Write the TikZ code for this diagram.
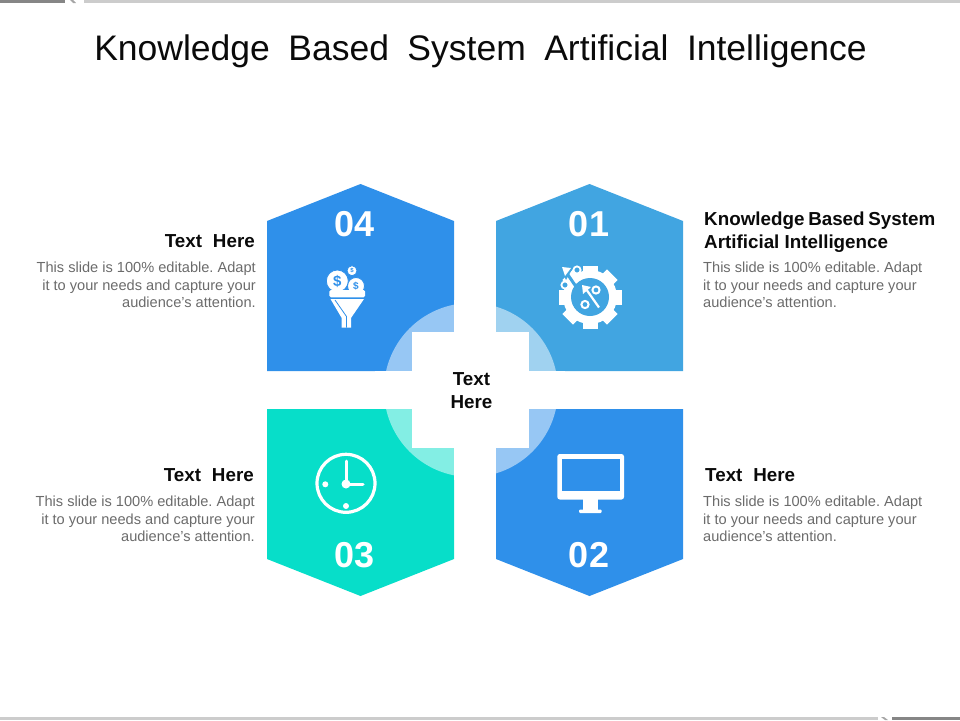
\documentclass[tikz,border=0pt]{standalone}
\usepackage{fontspec}
\setmainfont{Liberation Sans}
\usetikzlibrary{calc}
\definecolor{hexblue}{HTML}{2F90EA}
\definecolor{hexsky}{HTML}{41A5E1}
\definecolor{hexteal}{HTML}{07DEC9}
\definecolor{bodygrey}{HTML}{6B6B6B}
\definecolor{headblack}{HTML}{0A0A0A}
\newcommand{\descline}{\frenchspacing This slide is 100\% editable. Adapt\\it to your needs and capture your\\audience's attention.}
\tikzset{
  headtext/.style={inner sep=0pt,text=headblack,font=\fontsize{18.8}{23}\selectfont\bfseries},
  bodytext/.style={inner sep=0pt,text=bodygrey,font=\fontsize{14.6}{17.6}\selectfont},
  numtext/.style={inner sep=0pt,text=white,font=\fontsize{36}{36}\selectfont\bfseries},
  coin/.style={fill=white,draw=hexblue,line width=0.8pt}
}
\begin{document}
\begin{tikzpicture}[x=1pt,y=-1pt]
\useasboundingbox (0,0) rectangle (960,720);
% bars
\fill[gray!95] (0,0) rectangle (65,2.5);
\fill[gray!40] (84,0) rectangle (960,2.5);
\fill[gray!70] (70,0) -- (73,0) -- (76,3) -- (73,3) -- cycle;
\fill[gray!40] (0,717) rectangle (878,720);
\fill[gray!95] (892,717) rectangle (960,720);
\fill[gray!70] (881,717) -- (884,717) -- (888,720) -- (885,720) -- cycle;
\node (title) at (480.5,51) [inner sep=0pt,text=headblack,font=\fontsize{35.5}{40}\selectfont] {\spaceskip=0.52em\rule{0pt}{0pt}Knowledge Based System Artificial Intelligence};
% hexagons
\fill[hexblue] (267,371) -- (267,221) -- (360.5,184) -- (454,221) -- (454,371) -- cycle;
\fill[hexsky] (496,371) -- (496,221) -- (589.5,184) -- (683,221) -- (683,371) -- cycle;
\fill[hexteal] (267,409) -- (267,559) -- (360.5,596) -- (454,559) -- (454,409) -- cycle;
\fill[hexblue] (496,409) -- (496,559) -- (589.5,596) -- (683,559) -- (683,409) -- cycle;
\fill[white,fill opacity=0.5] (471,390) circle (87);
\fill[white] (412,332) rectangle (529,448);
\fill[white] (454,300) rectangle (496,480);
\fill[white] (375,371) rectangle (565,409);
% numbers
\node (num4) at (355,224) [numtext] {04};
\node (num1) at (589,224) [numtext] {01};
\node (num3) at (355,555) [numtext] {03};
\node (num2) at (589,555) [numtext] {02};
\node (center) at (471.5,390.5) [headtext,align=center] {Text\\Here};
% left texts
\node (head4) at (255,241) [headtext,anchor=east] {\spaceskip=0.58em Text Here};
\node (body4) at (256,262) [bodytext,anchor=north east,align=right] {\descline};
\node (head3) at (254,475) [headtext,anchor=east] {\spaceskip=0.58em Text Here};
\node (body3) at (255,495.7) [bodytext,anchor=north east,align=right] {\descline};
% right texts
\node (head1) at (704,232) [headtext,anchor=west,align=left] {\spaceskip=0.2em Knowledge Based System\\Artificial Intelligence};
\node (body1) at (703,262) [bodytext,anchor=north west,align=left] {\descline};
\node (head2) at (705,475) [headtext,anchor=west] {\spaceskip=0.58em Text Here};
\node (body2) at (703,495.7) [bodytext,anchor=north west,align=left] {\descline};
% funnel icon
\draw[coin] (352,270.7) circle (5);
\draw[coin] (356,286) circle (8.5);
\draw[coin] (337.3,281) circle (11);
\node (dollara) at (337.3,281) [inner sep=0pt,text=hexblue,font=\fontsize{15}{15}\selectfont\bfseries] {\$};
\node (dollarb) at (356,286.5) [inner sep=0pt,text=hexblue,font=\fontsize{10}{10}\selectfont\bfseries] {\$};
\node (dollarc) at (352,270.7) [inner sep=0pt,text=hexblue,font=\fontsize{6}{6}\selectfont\bfseries] {\$};
\fill[white,rounded corners=1.5pt] (329.3,290) rectangle (365,297.3);
\fill[white] (330.5,299) -- (364,299) -- (351,318) -- (351,327.5) -- (341.7,327.5) -- (341.7,318) -- cycle;
\draw[hexblue,line width=0.8pt] (335,300) -- (346.5,316.5) -- (346.5,327.5);
% gear icon
\foreach \a in {0,45,...,315} {\fill[white,rotate around={\a:(590,297)}] (582.5,265.5) rectangle (597.5,280);}
\fill[white] (590,297) circle (27);
\fill[hexsky] (590,297) circle (19);
\draw[hexsky,line width=3pt] (579,291) -- (566,272);
\fill[hexsky] (559,266) -- (574,266) -- (566,280) -- cycle;
\fill[white] (562,267) -- (571,268) -- (565,276) -- cycle;
\draw[white,line width=1.8pt,fill=hexsky] (577,270) circle (3.6);
\draw[white,line width=1.8pt,fill=hexsky] (565,285) circle (3.6);
\draw[white,line width=2.2pt] (599,307.5) -- (586,289);
\fill[white] (582,285) -- (591,287) -- (583,294) -- cycle;
\draw[white,line width=2pt] (596,290) circle (3.6);
\draw[white,line width=2pt] (585,304.5) circle (3.6);
% clock icon
\draw[white,line width=3.2pt] (346,483.3) circle (29);
\draw[white,line width=3pt,line cap=round] (346,461) -- (346,484) -- (363,484);
\fill[white] (346,484) circle (4.5);
\fill[white] (325.3,484.3) circle (3);
\fill[white] (346,506) circle (3);
% monitor icon
\fill[white,rounded corners=2.5pt] (557.3,454) rectangle (624,499.5);
\fill[hexblue] (561.7,459) rectangle (620,491);
\fill[white] (582.7,499) rectangle (598.3,510);
\fill[white,rounded corners=1pt] (579,509.5) rectangle (601.7,513);
\end{tikzpicture}
\end{document}
